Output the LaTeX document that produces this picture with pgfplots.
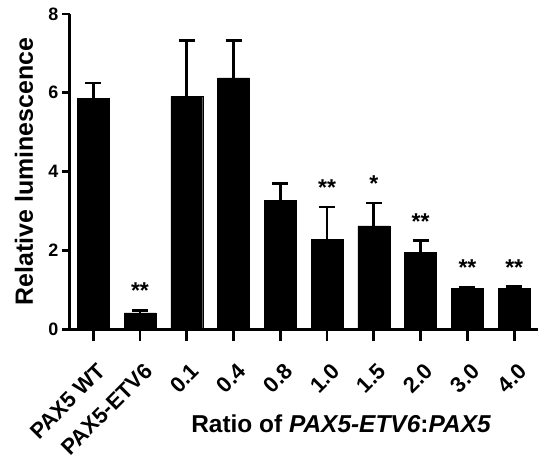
\documentclass[border=0pt]{standalone}
\usepackage{fontspec}
\setmainfont{Liberation Sans}
\usepackage{pgfplots}
\pgfplotsset{compat=1.18}
\begin{document}
\begin{tikzpicture}
\begin{axis}[
    scale only axis,
    width=469pt, height=316pt,
    xmin=-0.5, xmax=9.5,
    ymin=0, ymax=8,
    axis lines*=left,
    axis line style={line width=2.8pt},
    ytick={0,2,4,6,8},
    xtick={0,...,9},
    xticklabels={PAX5 WT,PAX5-ETV6,0.1,0.4,0.8,1.0,1.5,2.0,3.0,4.0},
    tick align=outside,
    major tick length=8pt,
    xtick style={/pgfplots/major tick length=12pt},
    tick style={line width=2.8pt, black},
    /pgf/number format/assume math mode=true,
    yticklabel style={font=\fontsize{18}{21}\selectfont\bfseries},
    xticklabel style={font=\fontsize{22}{25}\selectfont\bfseries,
                      yshift=-13pt, xshift=3pt, rotate=45, anchor=north east, inner sep=2pt},
    xticklabel shift=9pt,
    ylabel={Relative luminescence},
    every axis y label/.style={at={(axis description cs:0,0.5)}, xshift=-37pt,
                  rotate=90, anchor=base,
                  font=\fontsize{25}{28}\selectfont\bfseries},
    xlabel={Ratio of \textit{PAX5-ETV6}:\textit{PAX5}},
    every axis x label/.style={at={(axis description cs:0.58,0)}, yshift=-95pt,
                  anchor=center, font=\fontsize{24.5}{28}\selectfont\bfseries},
    clip=false,
]
\addplot[ybar, bar width=32pt, fill=black, draw=black,
    error bars/.cd, y dir=plus, y explicit,
    error bar style={line width=2.8pt, black},
    error mark options={line width=2.8pt, black, mark size=8pt, rotate=90}]
coordinates {
    (0,5.85) +- (0,0.40)
    (1,0.41) +- (0,0.07)
    (2,5.90) +- (0,1.42)
    (3,6.38) +- (0,0.94)
    (4,3.27) +- (0,0.42)
    (5,2.28) +- (0,0.82)
    (6,2.62) +- (0,0.58)
    (7,1.95) +- (0,0.29)
    (8,1.04) +- (0,0.03)
    (9,1.04) +- (0,0.04)
};
\addplot[draw=none, mark=none, point meta=explicit symbolic,
    nodes near coords,
    nodes near coords style={anchor=south, font=\fontsize{23}{23}\selectfont\bfseries, yshift=8pt}]
coordinates {
    (1,0.48) [**]
    (5,3.10) [**]
    (6,3.20) [*]
    (7,2.24) [**]
    (8,1.07) [**]
    (9,1.08) [**]
};
\end{axis}
\path ([xshift=-70pt,yshift=-125pt]current axis.south west)
      rectangle ([yshift=14pt]current axis.north east);
\end{tikzpicture}
\end{document}
